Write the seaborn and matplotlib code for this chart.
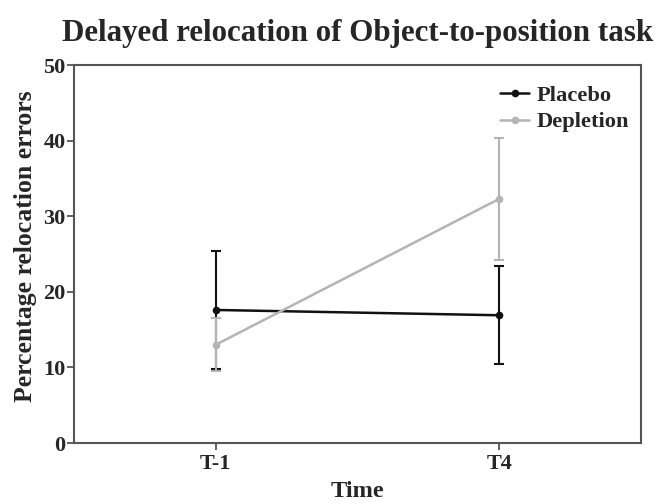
import matplotlib
matplotlib.use("Agg")
import matplotlib.pyplot as plt
import seaborn as sns
import pandas as pd

sns.set_theme(style="white")
plt.rcParams['font.family'] = ['Liberation Serif', 'DejaVu Serif']
plt.rcParams['font.weight'] = 'bold'

# values
times = ['T-1', 'T4']
groups = ['Placebo', 'Depletion']
placebo_mean = [17.6, 16.9]
placebo_err = [7.8, 6.5]
depletion_mean = [13.0, 32.3]
depletion_err = [3.5, 8.1]

colors = {'Placebo': '#111111', 'Depletion': '#b4b4b4'}

df = pd.DataFrame({
    'Time': times * 2,
    'Group': [groups[0]] * 2 + [groups[1]] * 2,
    'Mean': placebo_mean + depletion_mean,
    'Err': placebo_err + depletion_err,
})

fig = plt.figure(figsize=(6.67, 5.04), dpi=100)
ax = fig.add_axes([0.111, 0.121, 0.85, 0.750])

for g in groups:
    sub = df[df['Group'] == g]
    ax.errorbar(sub['Time'], sub['Mean'], yerr=sub['Err'], fmt='none',
                ecolor=colors[g], elinewidth=1.5, capsize=3.6, capthick=1.5, zorder=2)

sns.lineplot(data=df, x='Time', y='Mean', hue='Group', palette=colors,
             hue_order=groups, marker='o', markersize=5.5, markeredgewidth=0,
             linewidth=1.8, ax=ax, zorder=3)

ax.set_xlim(-0.5, 1.5)
ax.set_ylim(0, 50)
ax.set_yticks([0, 10, 20, 30, 40, 50])
ax.set_xlabel('Time', fontsize=17.5, fontweight='bold', labelpad=5)
ax.set_ylabel('Percentage relocation errors', fontsize=18.5, fontweight='bold')
ax.yaxis.set_label_coords(-0.066, 0.52)
ax.set_title('Delayed relocation of Object-to-position task', fontsize=22.3,
             fontweight='bold', pad=17)

for s in ax.spines.values():
    s.set_color('#555555')
    s.set_linewidth(1.5)
ax.tick_params(axis='both', which='both', direction='out', length=5, width=1.3,
               color='#555555', labelsize=16, pad=1)
ax.tick_params(axis='y', left=True)
ax.tick_params(axis='x', bottom=True, pad=3)
for lbl in ax.get_xticklabels() + ax.get_yticklabels():
    lbl.set_fontweight('bold')

leg = ax.legend(loc='upper right', frameon=False, fontsize=16.2, handlelength=1.3,
                handletextpad=0.3, labelspacing=0.25, borderaxespad=0.5)
leg.set_bbox_to_anchor((1.0 + 8 / 567, 1.0), transform=ax.transAxes)
for t in leg.get_texts():
    t.set_fontweight('bold')

fig.savefig('out.png', dpi=100)
